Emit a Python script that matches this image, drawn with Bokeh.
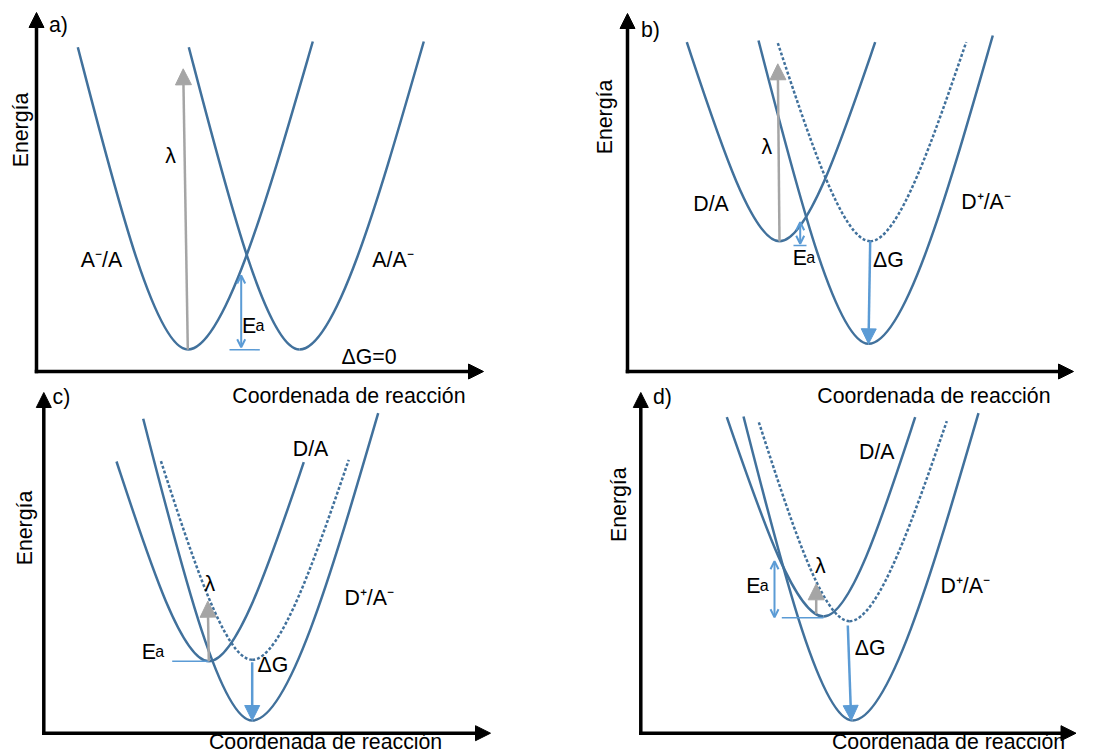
import pandas as pd
from bokeh.plotting import figure
from bokeh.models import Range1d, ColumnDataSource, Arrow, NormalHead, OpenHead
from bokeh.core.properties import value
from bokeh.embed import file_html
from bokeh.resources import INLINE

# ------------------------------------------------------------------
# Data (page pixel units: x to the right, y down)
# ------------------------------------------------------------------
# Free-energy curves: one row per curve (vertex + both upper ends)
curve_panel  = ["a", "a", "b", "b", "b", "c", "c", "c", "d", "d", "d"]
curve_state  = ["A⁻/A", "A/A⁻", "D/A", "D⁺/A⁻", "D/A'", "D/A", "D⁺/A⁻", "D/A'", "D/A", "D⁺/A⁻", "D/A'"]
curve_dotted = [False, False, False, False, True, False, False, True, False, False, True]
vertex_x = [187.3, 299.0, 779.0, 868.0, 869.7, 208.3, 251.7, 251.7, 823.0, 852.0, 849.0]
vertex_y = [349.0, 349.0, 240.7, 343.3, 240.7, 660.7, 720.0, 659.3, 616.0, 720.0, 620.7]
left_x   = [77.3, 188.3, 686.3, 758.0, 777.0, 116.0, 142.7, 160.0, 726.3, 743.0, 758.0]
left_y   = [46.7, 46.7, 41.7, 40.0, 41.7, 461.0, 418.3, 459.3, 416.7, 416.0, 420.7]
right_x  = [312.3, 423.3, 874.7, 992.3, 965.7, 303.3, 377.7, 348.3, 914.7, 978.0, 946.3]
right_y  = [41.0, 41.0, 41.7, 35.0, 41.7, 461.7, 412.7, 459.3, 416.7, 412.7, 420.7]

# Panel axes: origin corner and arrow tips
axis_ox   = [36.0, 627.0, 43.3, 640.3]
axis_oy   = [371.0, 371.0, 732.7, 732.7]
axis_ytip = [12.0, 13.0, 392.0, 392.0]
axis_xtip = [483.0, 1073.0, 490.0, 1075.5]

# Reorganisation energy (grey arrows)
lam_x0 = [187.3, 779.0, 208.3, 815.7]
lam_y0 = [349.0, 240.7, 660.7, 613.3]
lam_x1 = [182.7, 777.3, 207.3, 815.7]
lam_y1 = [68.3, 63.3, 600.7, 583.3]

# Driving force (blue arrows, panels b, c, d)
dg_x0 = [869.7, 251.7, 847.3]
dg_y0 = [240.7, 661.7, 625.0]
dg_x1 = [868.0, 251.7, 850.7]
dg_y1 = [343.3, 720.0, 720.0]

# Activation energy double arrows (panels a, b, d)
ea_x  = [240.7, 799.7, 774.0]
ea_y0 = [346.7, 243.3, 616.7]
ea_y1 = [275.0, 221.7, 560.7]

# Activation energy reference lines (panels a, b, c, d)
eal_x0 = [229.0, 793.0, 171.7, 781.3]
eal_x1 = [259.3, 806.0, 208.3, 823.0]
eal_y  = [349.3, 245.0, 660.7, 617.3]

# Texts (baseline positions)
tag_text = ["a)", "b)", "c)", "d)"]
tag_x = [48.5, 640.5, 52.0, 652.5]
tag_y = [32.0, 37.0, 404.0, 404.0]

state_text = ["A⁻/A", "A/A⁻", "D/A", "D⁺/A⁻", "D/A", "D⁺/A⁻", "D/A", "D⁺/A⁻"]
state_x = [101.0, 392.5, 710.5, 985.5, 310.0, 368.7, 876.3, 964.7]
state_y = [267.0, 267.0, 211.7, 209.3, 456.0, 605.0, 459.3, 593.3]

lam_text_x = [170.0, 766.3, 209.3, 819.7]
lam_text_y = [163.3, 154.0, 591.7, 573.3]

dg_text = ["ΔG=0", "ΔG", "ΔG", "ΔG"]
dg_text_x = [368.5, 888.0, 272.5, 869.7]
dg_text_y = [364.0, 267.3, 672.7, 655.7]

ea_text_x = [241.5, 792.2, 141.2, 745.8]
ea_text_y = [333.3, 265.0, 659.3, 593.3]

ylab_x = [28.0, 612.0, 32.0, 626.5]
ylab_y = [129.5, 116.5, 527.5, 504.2]
xlab_x = [465.0, 1050.0, 441.7, 1064.7]
xlab_y = [403.0, 403.0, 749.0, 749.0]

# ------------------------------------------------------------------
FONT = "Liberation Sans"
CURVE = "#41719C"
LIGHT = "#5B9BD5"
GREY = "#A5A5A5"
AXIS_W = 3.5
BL = 8.0   # renderer places alphabetic baseline ~8px low; compensate

p = figure(width=1106, height=755, x_range=Range1d(0, 1106), y_range=Range1d(755, 0),
           output_backend="svg", toolbar_location=None, min_border=0,
           x_axis_location=None, y_axis_location=None)
p.grid.visible = False
p.outline_line_color = None
p.background_fill_color = "white"
p.border_fill_color = "white"

# ---- curves as cubic Bezier arms ----
curves = pd.DataFrame(dict(panel=curve_panel, state=curve_state, dotted=curve_dotted,
                           vx=vertex_x, vy=vertex_y, lx=left_x, ly=left_y,
                           rx=right_x, ry=right_y))
arms = pd.concat([curves.assign(ex=curves.lx, ey=curves.ly),
                  curves.assign(ex=curves.rx, ey=curves.ry)], ignore_index=True)
A_, D_, S_ = 0.30, 1.0 / 3.0, 1.4
arms["cx0"] = arms.vx + A_ * (arms.ex - arms.vx)
arms["cy0"] = arms.vy
arms["cx1"] = arms.ex - D_ * (arms.ex - arms.vx)
arms["cy1"] = arms.ey - S_ * D_ * (arms.ey - arms.vy)

solid = ColumnDataSource(arms[~arms.dotted])
dotted = ColumnDataSource(arms[arms.dotted])
p.bezier(x0="vx", y0="vy", x1="ex", y1="ey", cx0="cx0", cy0="cy0", cx1="cx1", cy1="cy1",
         source=solid, line_color=CURVE, line_width=2.5)
p.bezier(x0="vx", y0="vy", x1="ex", y1="ey", cx0="cx0", cy0="cy0", cx1="cx1", cy1="cy1",
         source=dotted, line_color=CURVE, line_width=2.5, line_dash="3 2")

# ---- axes (arrows) ----
ax = pd.DataFrame(dict(ox=axis_ox, oy=axis_oy, yt=axis_ytip, xt=axis_xtip))
yax = ColumnDataSource(dict(x0=ax.ox, y0=ax.oy + AXIS_W / 2, x1=ax.ox, y1=ax.yt))
xax = ColumnDataSource(dict(x0=ax.ox - AXIS_W / 2, y0=ax.oy, x1=ax.xt, y1=ax.oy))
for src in (yax, xax):
    p.add_layout(Arrow(source=src, x_start="x0", y_start="y0", x_end="x1", y_end="y1",
                       line_color="black", line_width=AXIS_W,
                       end=NormalHead(size=15, fill_color="black", line_color="black",
                                      line_width=1)))

# ---- λ arrows ----
p.add_layout(Arrow(source=ColumnDataSource(dict(x0=lam_x0, y0=lam_y0, x1=lam_x1, y1=lam_y1)),
                   x_start="x0", y_start="y0", x_end="x1", y_end="y1",
                   line_color=GREY, line_width=2.5,
                   end=NormalHead(size=16, fill_color=GREY, line_color=GREY, line_width=1)))

# ---- ΔG arrows ----
p.add_layout(Arrow(source=ColumnDataSource(dict(x0=dg_x0, y0=dg_y0, x1=dg_x1, y1=dg_y1)),
                   x_start="x0", y_start="y0", x_end="x1", y_end="y1",
                   line_color=LIGHT, line_width=2.5,
                   end=NormalHead(size=15, fill_color=LIGHT, line_color=LIGHT, line_width=1)))

# ---- Ea double arrows and reference lines ----
p.add_layout(Arrow(source=ColumnDataSource(dict(x0=ea_x, y0=ea_y0, x1=ea_x, y1=ea_y1)),
                   x_start="x0", y_start="y0", x_end="x1", y_end="y1",
                   line_color=LIGHT, line_width=2,
                   start=OpenHead(size=8, line_color=LIGHT, line_width=2),
                   end=OpenHead(size=8, line_color=LIGHT, line_width=2)))
p.segment(x0=eal_x0, y0=eal_y, x1=eal_x1, y1=eal_y, line_color=LIGHT, line_width=1.5)

# ---- texts ----
big = value("21.3px")
common = dict(text_font=value(FONT), text_color="black", text_baseline="alphabetic")


def up(ys):
    return [v - BL for v in ys]


p.text(x=tag_x, y=up(tag_y), text=tag_text, text_align="left",
       text_font_size=big, **common)
p.text(x=state_x, y=up(state_y), text=state_text, text_align="center",
       text_font_size=big, **common)
p.text(x=lam_text_x, y=up(lam_text_y), text=["λ"] * len(lam_text_x), text_align="center",
       text_font_size=big, **common)
p.text(x=dg_text_x, y=up(dg_text_y), text=dg_text, text_align="center",
       text_font_size=big, **common)
# "Ea": capital E with a smaller a on the same baseline
ea_src = ColumnDataSource(dict(x=ea_text_x, y=up(ea_text_y),
                               xa=[v + 13.5 for v in ea_text_x]))
p.text(x="x", y="y", text=value("E"), source=ea_src, text_align="left",
       text_font_size=big, **common)
p.text(x="xa", y="y", text=value("a"), source=ea_src, text_align="left",
       text_font_size=value("16px"), **common)
# axis titles
p.text(x=[v - BL for v in ylab_x], y=ylab_y, text=["Energía"] * 4, angle=1.5707963,
       text_align="center", text_font_size=big, **common)
p.text(x=xlab_x, y=up(xlab_y), text=["Coordenada de reacción"] * 4, text_align="right",
       text_font_size=big, **common)

open("out.html", "w").write(file_html(p, INLINE))
